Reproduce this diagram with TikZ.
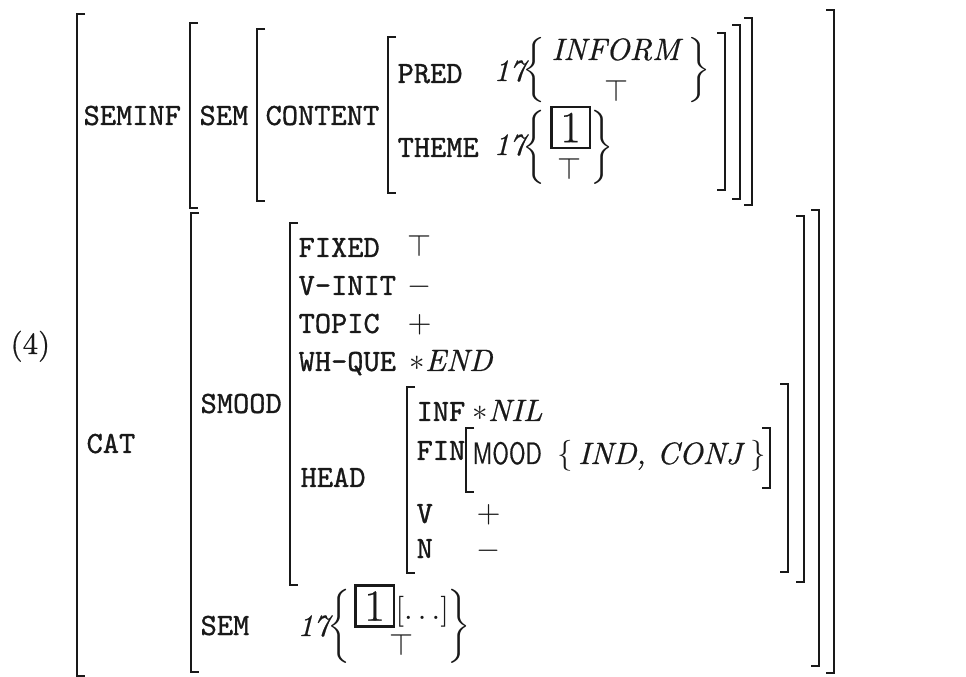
\documentclass[tikz,border=0pt]{standalone}
\usepackage{graphicx}
\usepackage{fontspec}
\setmainfont{Latin Modern Roman}[FakeBold=0.6]
\setmonofont{Latin Modern Mono}[FakeBold=1.0]
\setsansfont{Latin Modern Sans}[FakeBold=0.6]
\newcommand\avmL[3]{\draw[brk] (#1+8,#2) -- (#1,#2) -- (#1,#3) -- (#1+8,#3);}
\newcommand\avmR[3]{\draw[brk] (#1-8,#2) -- (#1,#2) -- (#1,#3) -- (#1-8,#3);}
\begin{document}
\begin{tikzpicture}[x=0.3236pt,y=-0.3236pt,
  lab/.style={anchor=base west,inner sep=0pt,font=\ttfamily,text=black!90},
  val/.style={anchor=base west,inner sep=0pt,text=black!90},
  brc/.style={anchor=center,inner sep=0pt,text=black!90},
  topsym/.style={anchor=base,inner sep=0pt,text=black!90},
  brk/.style={draw=black!90,line width=0.9pt,line join=miter},
  tagbox/.style={draw=black!90,line width=0.75pt,inner sep=0pt,minimum width=12.4pt,minimum height=13.2pt,font=\Large,text=black!90}]
\useasboundingbox[fill=white] (0,0) rectangle (966,677);

% brackets
\avmL{77}{14}{676}
\avmL{190}{23}{208}
\avmL{257}{29}{201}
\avmL{388}{37}{193}
\avmL{191}{213}{672}
\avmL{290}{223}{585}
\avmL{407}{387}{573}
\avmL{466}{428}{492}
\avmR{725}{33}{190}
\avmR{740}{25}{199}
\avmR{752}{18}{205}
\avmR{834}{10}{673}
\avmR{819}{210}{666}
\avmR{804}{216}{582}
\avmR{788}{384}{572}
\avmR{770}{428}{488}

% example number
\node[val] (num) at (10,354) {(4)};

% upper part
\node[lab] (seminf) at (83,125) {SEMINF};
\node[lab] (sema) at (199,125) {SEM};
\node[lab] (content) at (265,125) {CONTENT};
\node[lab] (pred) at (397,83) {PRED};
\node[lab] (theme) at (397,157) {THEME};
\node[val] (ta) at (493,81) {\itshape 17};
\node[brc] (lba) at (534,70) {\scalebox{1}[0.88]{$\bigg\{$}};
\node[val] (inform) at (551,60) {\itshape INFORM};
\node[topsym] (topa) at (617,102) {$\top$};
\node[brc] (rba) at (699,70) {\scalebox{1}[0.88]{$\bigg\}$}};
\node[val] (tb) at (493,155) {\itshape 17};
\node[brc] (lbb) at (534,147) {$\bigg\{$};
\node[tagbox] (boxa) at (570.5,127.5) {1};
\node[topsym] (topb) at (570,180) {$\top$};
\node[brc] (rbb) at (602,147) {$\bigg\}$};

% CAT part
\node[lab] (cat) at (86,453) {CAT};
\node[lab] (smood) at (200,413) {SMOOD};
\node[lab] (fixed) at (298,257) {FIXED};
\node[val] (fixedv) at (407,257) {$\top$};
\node[lab] (vinit) at (298,295) {V-INIT};
\node[val] (vinitv) at (407,295) {$-$};
\node[lab] (topic) at (298,333) {TOPIC};
\node[val] (topicv) at (407,333) {$+$};
\node[lab] (whque) at (298,371) {WH-QUE};
\node[val] (whquev) at (409,371) {$\ast$\textit{END}};
\node[lab] (head) at (300,487) {HEAD};
\node[lab] (inf) at (416,421) {INF};
\node[val] (infv) at (472,421) {$\ast$\textit{NIL}};
\node[lab] (fin) at (416,460) {FIN};
\node[val] (mood) at (472,464) {\scalebox{0.73}[1]{\sffamily MOOD}};
\node[val] (moodv) at (557,464) {$\{$\,\textit{IND, CONJ}\,$\}$};
\node[lab] (v) at (416,523) {V};
\node[val] (vv) at (476,523) {$+$};
\node[lab] (n) at (416,558) {N};
\node[val] (nv) at (476,558) {$-$};

% lower SEM
\node[lab] (semb) at (200,635) {SEM};
\node[val] (tc) at (297,636) {\itshape 17};
\node[brc] (lbc) at (339,626) {$\bigg\{$};
\node[tagbox] (boxb) at (374.5,606) {1};
\node[val] (dots) at (395,619) {$[\ldots]$};
\node[topsym] (topc) at (402,655) {$\top$};
\node[brc] (rbc) at (459,626) {$\bigg\}$};
\end{tikzpicture}
\end{document}
